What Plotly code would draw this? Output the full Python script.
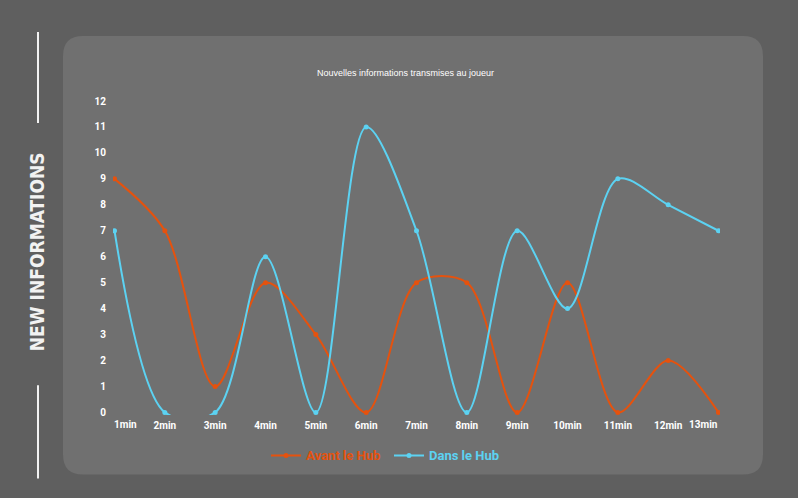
import plotly.graph_objects as go

categories = ["1min", "2min", "3min", "4min", "5min", "6min", "7min",
              "8min", "9min", "10min", "11min", "12min", "13min"]
avant_hub = [9, 7, 1, 5, 3, 0, 5, 5, 0, 5, 0, 2, 0]
dans_hub = [7, 0, 0, 6, 0, 11, 7, 0, 7, 4, 9, 8, 7]
y_ticks = list(range(0, 13))

W, H = 798, 498
Y_MIN, Y_MAX = -0.1, 12
UNIT = 311 / 12
L, R, T = 113, 78, 101
PH = (Y_MAX - Y_MIN) * UNIT
B = H - T - PH
PW = W - L - R

ORANGE = "#e5520e"
BLUE = "#5cd2f2"
TICKFONT = dict(family="Roboto", size=10, color="#ffffff", weight="bold")


def px(x):
    return (x - L) / PW


def py(y):
    return (H - B - y) / PH


def rounded_rect(x0, y0, x1, y1, r):
    rx, ry = r / PW, r / PH
    X0, X1 = px(x0), px(x1)
    Yt, Yb = py(y0), py(y1)
    return (f"M {X0+rx},{Yt} L {X1-rx},{Yt} Q {X1},{Yt} {X1},{Yt-ry} "
            f"L {X1},{Yb+ry} Q {X1},{Yb} {X1-rx},{Yb} L {X0+rx},{Yb} "
            f"Q {X0},{Yb} {X0},{Yb+ry} L {X0},{Yt-ry} Q {X0},{Yt} {X0+rx},{Yt} Z")


fig = go.Figure()
fig.add_trace(go.Scatter(
    x=categories, y=avant_hub, name="Avant le Hub", mode="lines+markers",
    line=dict(color=ORANGE, width=2, shape="spline", smoothing=0.9),
    marker=dict(color=ORANGE, size=5), legend="legend",
))
fig.add_trace(go.Scatter(
    x=categories, y=dans_hub, name="Dans le Hub", mode="lines+markers",
    line=dict(color=BLUE, width=2, shape="spline", smoothing=0.9),
    marker=dict(color=BLUE, size=5), legend="legend2",
))

shapes = [
    dict(type="path", xref="paper", yref="paper", layer="below",
         path=rounded_rect(63, 36, 763, 474, 20),
         fillcolor="#707070", line=dict(width=0)),
    dict(type="line", xref="paper", yref="paper",
         x0=px(38), x1=px(38), y0=py(32), y1=py(123),
         line=dict(color="#f2f2f2", width=2)),
    dict(type="line", xref="paper", yref="paper",
         x0=px(38), x1=px(38), y0=py(385), y1=py(478),
         line=dict(color="#f2f2f2", width=2)),
]

annotations = [
    dict(text="<b>NEW INFORMATIONS</b>", xref="paper", yref="paper",
         x=px(37), y=py(252), showarrow=False, textangle=-90,
         font=dict(family="DejaVu Sans Condensed", size=19, color="#f2f2f2"),
         xanchor="center", yanchor="middle"),
    dict(text="Nouvelles informations transmises au joueur", xref="paper",
         yref="paper", x=px(405), y=py(73), showarrow=False,
         font=dict(family="Liberation Sans", size=9, color="#ffffff"),
         xanchor="center", yanchor="middle"),
    dict(text=categories[0], xref="x", yref="paper", x=categories[0],
         y=py(424), xshift=11, showarrow=False, font=TICKFONT,
         xanchor="center", yanchor="middle"),
    dict(text=categories[-1], xref="x", yref="paper", x=categories[-1],
         y=py(424), xshift=-15, showarrow=False, font=TICKFONT,
         xanchor="center", yanchor="middle"),
]

legend_common = dict(orientation="h", yanchor="middle", xanchor="left",
                     bgcolor="rgba(0,0,0,0)", itemwidth=30)

fig.update_layout(
    width=W, height=H,
    margin=dict(l=L, r=R, t=T, b=B),
    paper_bgcolor="#5f5f5f",
    plot_bgcolor="rgba(0,0,0,0)",
    shapes=shapes,
    annotations=annotations,
    showlegend=True,
    legend=dict(**legend_common, x=px(266), y=py(455),
                font=dict(family="Roboto", size=13, weight="bold",
                          color=ORANGE)),
    legend2=dict(**legend_common, x=px(389), y=py(455),
                 font=dict(family="Roboto", size=13, weight="bold",
                           color=BLUE)),
    xaxis=dict(type="category", range=[-0.03, 12.03], showgrid=False,
               zeroline=False, showline=False, ticks="",
               tickvals=categories[1:-1], ticktext=categories[1:-1],
               ticklabelstandoff=3, tickfont=TICKFONT),
    yaxis=dict(range=[Y_MIN, Y_MAX], tickvals=y_ticks, showgrid=False,
               zeroline=False, showline=False, ticks="", ticklabelstandoff=6,
               tickfont=TICKFONT),
)

fig.write_html("out.html", config={"displayModeBar": False},
               post_script="document.body.style.margin='0';"
                           "document.body.style.background='#5f5f5f';")
